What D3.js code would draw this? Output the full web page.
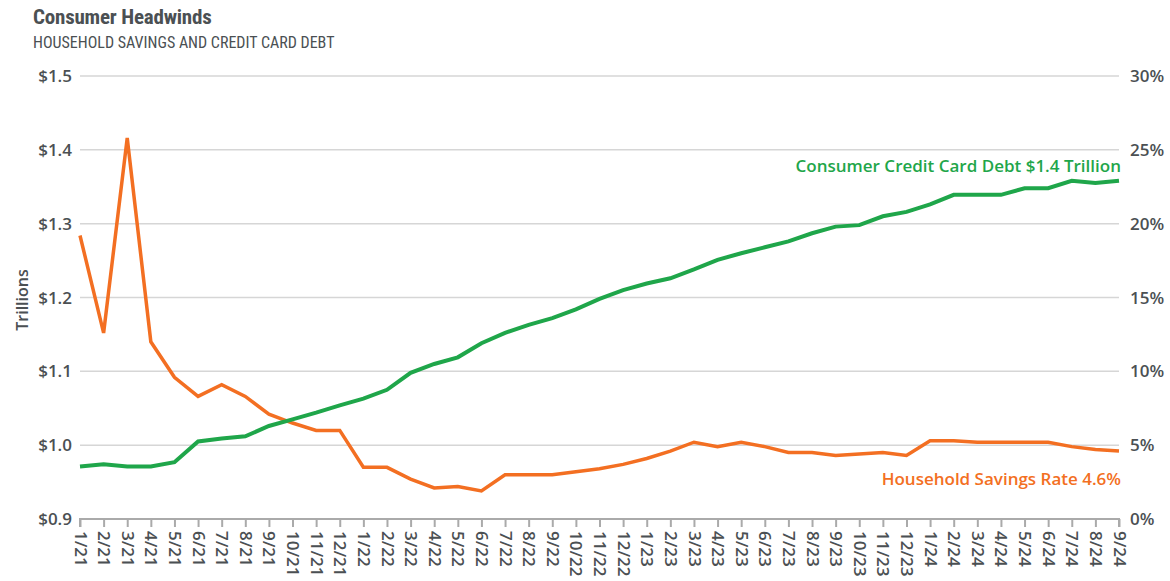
<!DOCTYPE html>
<html>
<head>
<meta charset="utf-8">
<script src="https://cdn.jsdelivr.net/npm/d3@7"></script>
<style>
  body { margin: 0; background: #fff; }
  svg { display: block; }
</style>
</head>
<body>
<svg></svg>
<script>
let width = 1170;
let height = 581;

// month labels 1/21 .. 9/24
let months = [
  '1/21','2/21','3/21','4/21','5/21','6/21','7/21','8/21','9/21','10/21','11/21','12/21',
  '1/22','2/22','3/22','4/22','5/22','6/22','7/22','8/22','9/22','10/22','11/22','12/22',
  '1/23','2/23','3/23','4/23','5/23','6/23','7/23','8/23','9/23','10/23','11/23','12/23',
  '1/24','2/24','3/24','4/24','5/24','6/24','7/24','8/24','9/24'
];

// credit card debt, trillions (left axis)
let debt = [
  0.971, 0.974, 0.971, 0.971, 0.977, 1.005, 1.009, 1.012, 1.026, 1.035, 1.044, 1.054,
  1.063, 1.075, 1.098, 1.110, 1.119, 1.138, 1.152, 1.163, 1.172, 1.184, 1.198, 1.210,
  1.219, 1.226, 1.238, 1.251, 1.260, 1.268, 1.276, 1.287, 1.296, 1.298, 1.310, 1.316,
  1.326, 1.339, 1.339, 1.339, 1.348, 1.348, 1.358, 1.355, 1.358
];

// household savings rate, % (right axis)
let savings = [
  19.2, 12.6, 25.8, 12.0, 9.6, 8.3, 9.1, 8.3, 7.1, 6.5, 6.0, 6.0,
  3.5, 3.5, 2.7, 2.1, 2.2, 1.9, 3.0, 3.0, 3.0, 3.2, 3.4, 3.7,
  4.1, 4.6, 5.2, 4.9, 5.2, 4.9, 4.5, 4.5, 4.3, 4.4, 4.5, 4.3,
  5.3, 5.3, 5.2, 5.2, 5.2, 5.2, 4.9, 4.7, 4.6
];

let leftTicks = [0.9, 1.0, 1.1, 1.2, 1.3, 1.4, 1.5];
let rightTicks = [0, 5, 10, 15, 20, 25, 30];

let green = '#1fa64a';
let orange = '#f36f22';
let textGray = '#4b5053';
let font = '"Open Sans", Lato, sans-serif';
let narrow = '"Liberation Sans Narrow", "Roboto Condensed", sans-serif';

let margin = {left: 80, right: 51, top: 76, bottom: 62};
let plotRight = width - margin.right;
let plotBottom = height - margin.bottom;

let x = d3.scalePoint()
  .domain(months)
  .range([margin.left, plotRight]);

let yLeft = d3.scaleLinear()
  .domain([0.9, 1.5])
  .range([plotBottom, margin.top]);

let yRight = d3.scaleLinear()
  .domain([0, 30])
  .range([plotBottom, margin.top]);

let svg = d3.select('svg')
  .attr('width', width)
  .attr('height', height);

// titles
svg.append('text')
  .attr('x', 33)
  .attr('y', 24)
  .attr('font-family', narrow)
  .attr('font-weight', 700)
  .attr('font-size', 21)
  .attr('fill', textGray)
  .attr('letter-spacing', -0.2)
  .text('Consumer Headwinds');

svg.append('text')
  .attr('x', 33)
  .attr('y', 48)
  .attr('font-family', narrow)
  .attr('font-size', 16)
  .attr('fill', textGray)
  .text('HOUSEHOLD SAVINGS AND CREDIT CARD DEBT');

// gridlines
svg.append('g')
  .selectAll('line')
  .data(leftTicks.slice(1))
  .join('line')
    .attr('x1', margin.left)
    .attr('x2', plotRight)
    .attr('y1', d => yLeft(d))
    .attr('y2', d => yLeft(d))
    .attr('stroke', '#d6d6d6')
    .attr('stroke-width', 1.5);

// left axis labels
svg.append('g')
  .selectAll('text')
  .data(leftTicks)
  .join('text')
    .attr('x', 72)
    .attr('y', d => yLeft(d) + 6)
    .attr('text-anchor', 'end')
    .attr('font-family', font)
    .attr('font-weight', 600)
    .attr('font-size', 17)
    .attr('fill', textGray)
    .text(d => '$' + d.toFixed(1));

// right axis labels
svg.append('g')
  .selectAll('text')
  .data(rightTicks)
  .join('text')
    .attr('x', 1130)
    .attr('y', d => yRight(d) + 6)
    .attr('font-family', font)
    .attr('font-weight', 600)
    .attr('font-size', 17)
    .attr('fill', textGray)
    .text(d => d + '%');

// y axis title
svg.append('text')
  .attr('transform', 'translate(28, 300) rotate(-90)')
  .attr('text-anchor', 'middle')
  .attr('font-family', font)
  .attr('font-weight', 600)
  .attr('font-size', 16)
  .attr('fill', textGray)
  .text('Trillions');

// x axis
let xAxis = svg.append('g')
  .attr('transform', `translate(0, ${plotBottom})`)
  .call(d3.axisBottom(x).tickSize(8).tickPadding(6));

xAxis.select('.domain')
  .attr('stroke', '#aaa')
  .attr('stroke-width', 2)
  .attr('d', `M${margin.left},8V0H${plotRight}V8`);

xAxis.selectAll('.tick line')
  .attr('stroke', '#aaa')
  .attr('stroke-width', 2);

xAxis.selectAll('.tick text')
  .attr('font-family', font)
  .attr('font-weight', 600)
  .attr('font-size', 17)
  .attr('fill', textGray)
  .attr('text-anchor', 'start')
  .attr('dy', '0.35em')
  .attr('transform', 'rotate(90)')
  .attr('x', 12)
  .attr('y', 0);

// lines
let debtLine = d3.line()
  .x((d, i) => x(months[i]))
  .y(d => yLeft(d));

let savingsLine = d3.line()
  .x((d, i) => x(months[i]))
  .y(d => yRight(d));

svg.append('path')
  .datum(savings)
  .attr('fill', 'none')
  .attr('stroke', orange)
  .attr('stroke-width', 3.5)
  .attr('d', savingsLine);

svg.append('path')
  .datum(debt)
  .attr('fill', 'none')
  .attr('stroke', green)
  .attr('stroke-width', 4)
  .attr('d', debtLine);

// annotations
svg.append('text')
  .attr('x', plotRight + 2)
  .attr('y', 172)
  .attr('text-anchor', 'end')
  .attr('font-family', font)
  .attr('font-weight', 600)
  .attr('font-size', 17)
  .attr('fill', green)
  .text('Consumer Credit Card Debt $1.4 Trillion');

svg.append('text')
  .attr('x', plotRight + 2)
  .attr('y', 485)
  .attr('text-anchor', 'end')
  .attr('font-family', font)
  .attr('font-weight', 600)
  .attr('font-size', 17)
  .attr('fill', orange)
  .text('Household Savings Rate 4.6%');
</script>
</body>
</html>
